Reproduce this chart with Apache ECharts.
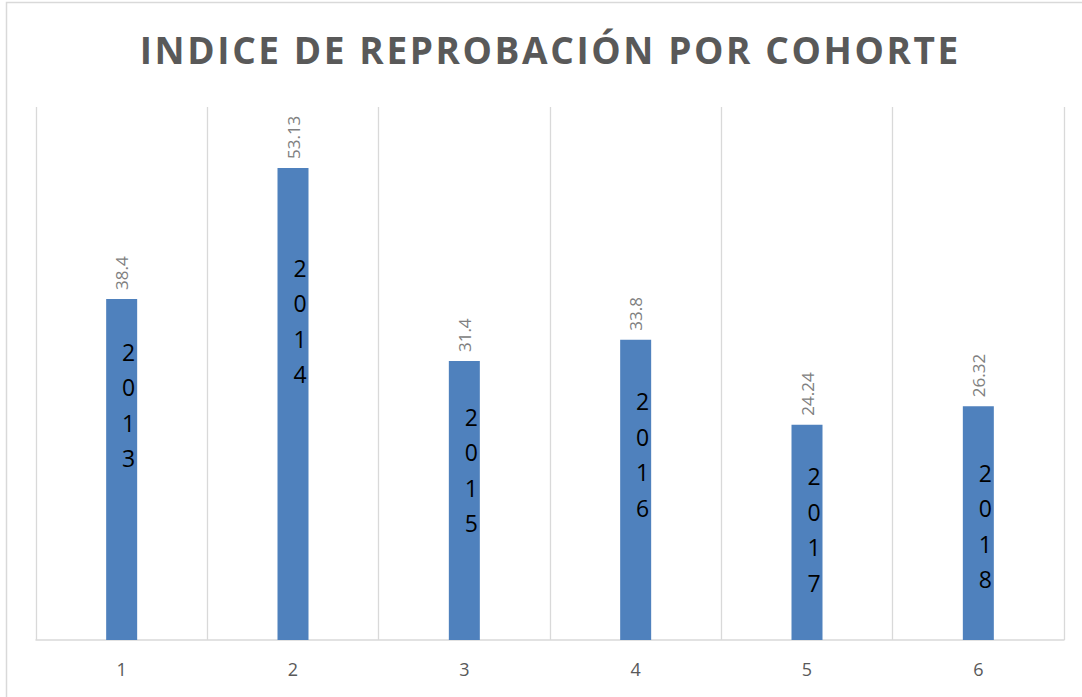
<!DOCTYPE html>
<html>
<head>
<meta charset="utf-8">
<script src="https://cdn.jsdelivr.net/npm/echarts@6/dist/echarts.min.js"></script>
<style>
html,body{margin:0;padding:0;background:#fff;}
#chart{width:1082px;height:697px;}
</style>
</head>
<body>
<div id="chart"></div>
<script>
// ---- data ----
const categories = ['1', '2', '3', '4', '5', '6'];
const values = [38.4, 53.13, 31.4, 33.8, 24.24, 26.32];
const cohortYears = ['2013', '2014', '2015', '2016', '2017', '2018'];
const titleText = 'INDICE DE REPROBACIÓN POR COHORTE';

// ---- style (label gaps from bar top, px) ----
const yearLabelGap = [35, 82, 38, 44, 34, 49];
const titleLetterSpacing = 2.6;
const titleCenterX = 549;

const chart = echarts.init(document.getElementById('chart'), null, {renderer: 'svg'});

const option = {
  animation: false,
  backgroundColor: '#ffffff',
  title: {
    text: titleText,
    left: 'center',
    top: 26,
    textStyle: {
      fontFamily: 'Open Sans',
      fontWeight: 'bold',
      fontSize: 37,
      color: '#595959'
    }
  },
  graphic: [{
    type: 'rect',
    silent: true,
    shape: {x: 6.5, y: 2.5, width: 1100, height: 720},
    style: {fill: 'none', stroke: '#d9d9d9', lineWidth: 1.5}
  }],
  grid: {left: 36, right: 18, top: 107, bottom: 57},
  xAxis: {
    type: 'category',
    data: categories,
    boundaryGap: true,
    axisLine: {show: true, lineStyle: {color: '#d9d9d9', width: 1.5}},
    axisTick: {show: false},
    splitLine: {show: true, lineStyle: {color: '#d9d9d9', width: 1.3}},
    axisLabel: {
      margin: 20,
      fontFamily: 'Open Sans',
      fontSize: 18,
      color: '#595959'
    }
  },
  yAxis: {
    type: 'value',
    min: 0,
    max: 60,
    show: false,
    splitLine: {show: false}
  },
  series: [
    {
      type: 'bar',
      data: values,
      barWidth: 31,
      itemStyle: {color: '#4f81bd'},
      label: {
        show: true,
        position: 'top',
        distance: 9,
        rotate: 90,
        align: 'left',
        verticalAlign: 'middle',
        fontFamily: 'Open Sans',
        fontSize: 17,
        color: '#808080',
        formatter: p => String(p.value)
      }
    },
    {
      type: 'bar',
      data: values.map((v, i) => ({
        value: v,
        label: {distance: yearLabelGap[i]}
      })),
      barWidth: 31,
      barGap: '-100%',
      z: 3,
      itemStyle: {color: 'rgba(0,0,0,0)'},
      label: {
        show: true,
        position: 'insideTop',
        offset: [7, 0],
        fontFamily: 'Open Sans',
        fontSize: 23,
        lineHeight: 35.5,
        color: '#000000',
        formatter: p => cohortYears[p.dataIndex].split('').join('\n')
      }
    }
  ]
};

chart.setOption(option);

// Title letter spacing (SVG renderer), then re-centre it on screen.
document.querySelectorAll('#chart text').forEach(el => {
  if (el.textContent === titleText) {
    el.style.letterSpacing = titleLetterSpacing + 'px';
    const r = el.getBoundingClientRect();
    const shift = titleCenterX - (r.left + r.width / 2) + titleLetterSpacing / 2;
    el.setAttribute('dx', shift.toFixed(2));
  }
});
</script>
</body>
</html>
